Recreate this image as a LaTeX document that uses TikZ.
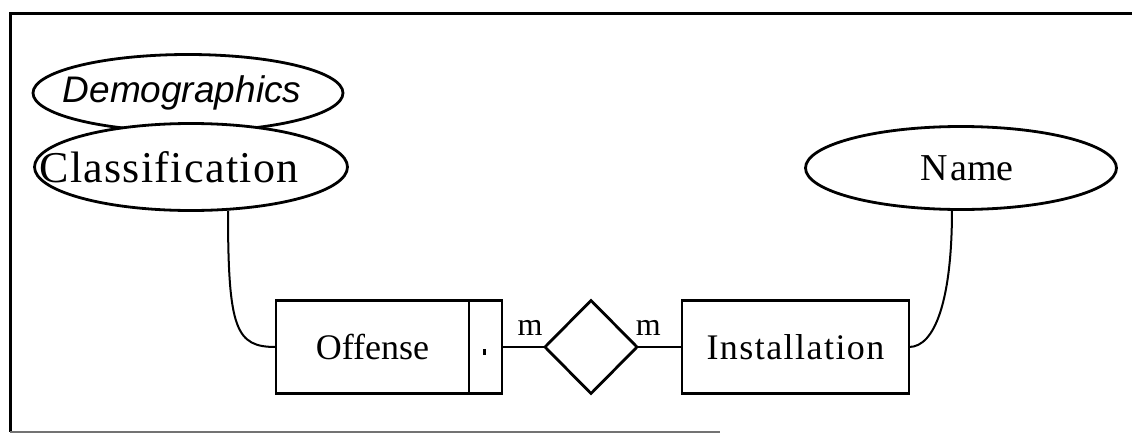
\documentclass[tikz,border=0pt]{standalone}
\usepackage{fontspec}
\setmainfont{Liberation Serif}
\newfontfamily\attrsans{Liberation Sans}
\usepackage{tikz}
\usetikzlibrary{shapes.geometric, positioning}

\newcommand{\fixw}[2][0pt]{\makebox[0pt]{\kern#1#2}}

\begin{document}
\begin{tikzpicture}[
        x=0.5pt, y=-0.5pt,
        line width=1.4pt,
        attrib/.style={draw, ellipse, inner sep=0pt, outer sep=0pt},
        entity/.style={draw, rectangle, inner sep=0pt, outer sep=0pt,
            minimum height=46.5pt},
        relship/.style={draw, diamond, inner sep=0pt, outer sep=0pt,
            minimum width=46pt, minimum height=46.5pt},
        card/.style={font=\fontsize{16}{18}\selectfont, inner sep=0pt,
            above=5pt}
    ]
        \useasboundingbox (0,0) rectangle (1132,434);

        % frame
        \draw[line width=1.5pt] (1132,13) -- (10,13) -- (10,432);
        \draw[line width=0.6pt, black!55] (10,432) -- (720,432);

        % attributes
        \node[attrib, minimum width=155pt, minimum height=38.5pt,
            font=\attrsans\itshape\fontsize{18.5}{20}\selectfont]
            (demog) at (188,93) {\fixw[-6pt]{Demographics}};
        \node[attrib, minimum width=156.5pt, minimum height=43.5pt,
            fill=white, font=\addfontfeatures{LetterSpace=3}\fontsize{22}{24}\selectfont]
            (classif) at (191,167) {\fixw[-22pt]{Classification}};
        \node[attrib, minimum width=155.5pt, minimum height=41.5pt,
            font=\fontsize{19}{22}\selectfont]
            (name) at (961,168) {\fixw[6pt]{N\kern1.5pt ame}};

        % entities and relationship
        \node[entity, minimum width=96.5pt, font=\fontsize{18}{20}\selectfont]
            (offense) at (372.5,347) {Offense};
        \node[entity, minimum width=16.5pt, right=0pt of offense] (offkey) {};
        \fill ([xshift=-1.5pt,yshift=-1pt]offkey.center) rectangle ++(3,6);

        \node[relship] (commits) at (591,347) {};
        \node[entity, minimum width=113.5pt,
            font=\addfontfeatures{LetterSpace=4}\fontsize{18}{20}\selectfont]
            (install) at (795.5,347) {Installation};

        % connectors
        \draw (offkey.east) -- node[card, pos=0.65] {m} (commits.west);
        \draw (commits.east) -- node[card, pos=0.25] {m} (install.west);

        \draw[line width=1pt] (classif.south) ++(37,0) coordinate (cbot)
            .. controls (228,330) and (236,347) .. (offense.west);
        \draw[line width=1pt] (name.south) ++(-9,0) coordinate (nbot)
            .. controls (952,300) and (935,347) .. (install.east);
    \end{tikzpicture}
\end{document}
